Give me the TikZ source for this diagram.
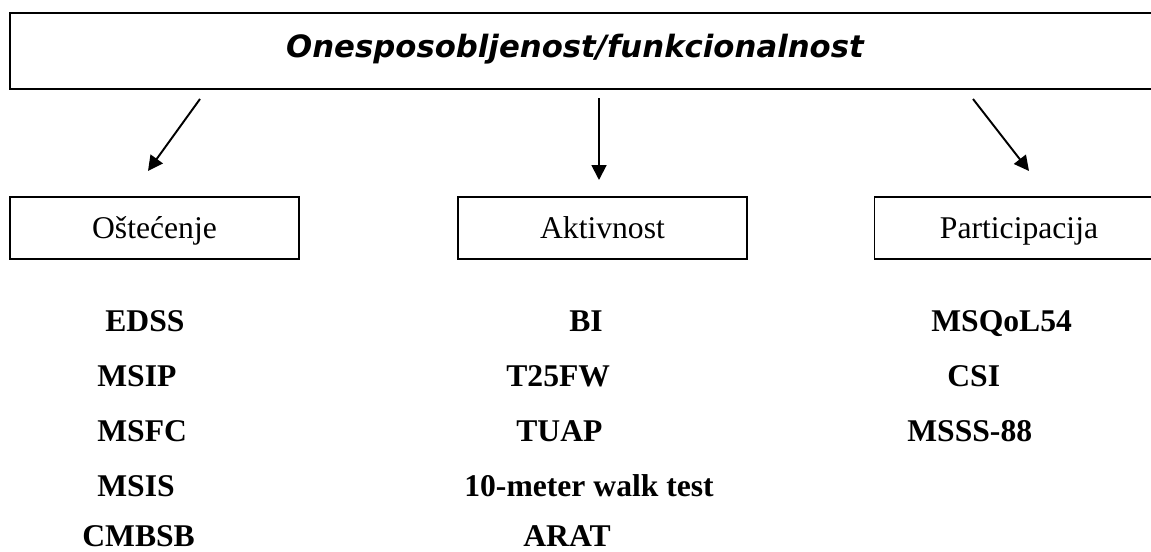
\documentclass[tikz,border=0pt]{standalone}
\usepackage{fontspec}
\setmainfont{Liberation Serif}
\newfontfamily\naslovfont{DejaVu Sans}
\usetikzlibrary{arrows.meta}

\tikzset{
    okvir/.style={draw, line width=1pt, minimum width=5.78cm, minimum height=1.24cm,
        inner sep=0pt, text height=16.2pt, text depth=3.8pt,
        font=\fontsize{18}{21}\selectfont},
    mjera/.style={anchor=base west, inner sep=0pt, font=\fontsize{18}{21}\selectfont\bfseries},
    strelica/.style={line width=1.1pt, -{Triangle[length=8.5pt,width=8.5pt]}}
}

\begin{document}
\begin{tikzpicture}[x=0.02cm, y=-0.02cm]
\useasboundingbox (0,0) rectangle (1151,551);
\clip (0,0) rectangle (1151,551);

% naslov
\node[draw, line width=1pt, minimum width=23.1cm, minimum height=1.52cm, inner sep=0pt] (naslov) at (587.5,51) {};
\node[anchor=base, inner sep=0pt, font=\naslovfont\bfseries\itshape\fontsize{17.5}{20}\selectfont] (naslovtekst) at (575,57) {Onesposobljenost/funkcionalnost};

% tri kategorije
\node[okvir] (ostecenje) at (154.5,228) {Oštećenje};
\node[okvir] (aktivnost) at (602.5,228) {Aktivnost};
\node[okvir] (participacija) at (1019,228) {Participacija};

% strelice
\coordinate (s1) at (200,99);  \coordinate (k1) at (148,171);
\coordinate (s2) at (599,98);  \coordinate (k2) at (599,180);
\coordinate (s3) at (973,99);  \coordinate (k3) at (1029,171);
\draw[strelica] (s1) -- (k1);
\draw[strelica] (s2) -- (k2);
\draw[strelica] (s3) -- (k3);

% mjere
\foreach \x/\y/\t [count=\i] in {105/331/EDSS, 97/386/MSIP, 97/441/MSFC, 97/496/MSIS, 82/546/CMBSB}
    \node[mjera] (ost-\i) at (\x,\y) {\t};
\foreach \x/\y/\t [count=\i] in {569/331/BI, 506/386/T25FW, 516/441/TUAP, 464/496/10-meter walk test, 523/546/ARAT}
    \node[mjera] (akt-\i) at (\x,\y) {\t};
\foreach \x/\y/\t [count=\i] in {931/331/MSQoL54, 947/386/CSI, 907/441/MSSS-88}
    \node[mjera] (par-\i) at (\x,\y) {\t};
\end{tikzpicture}
\end{document}
